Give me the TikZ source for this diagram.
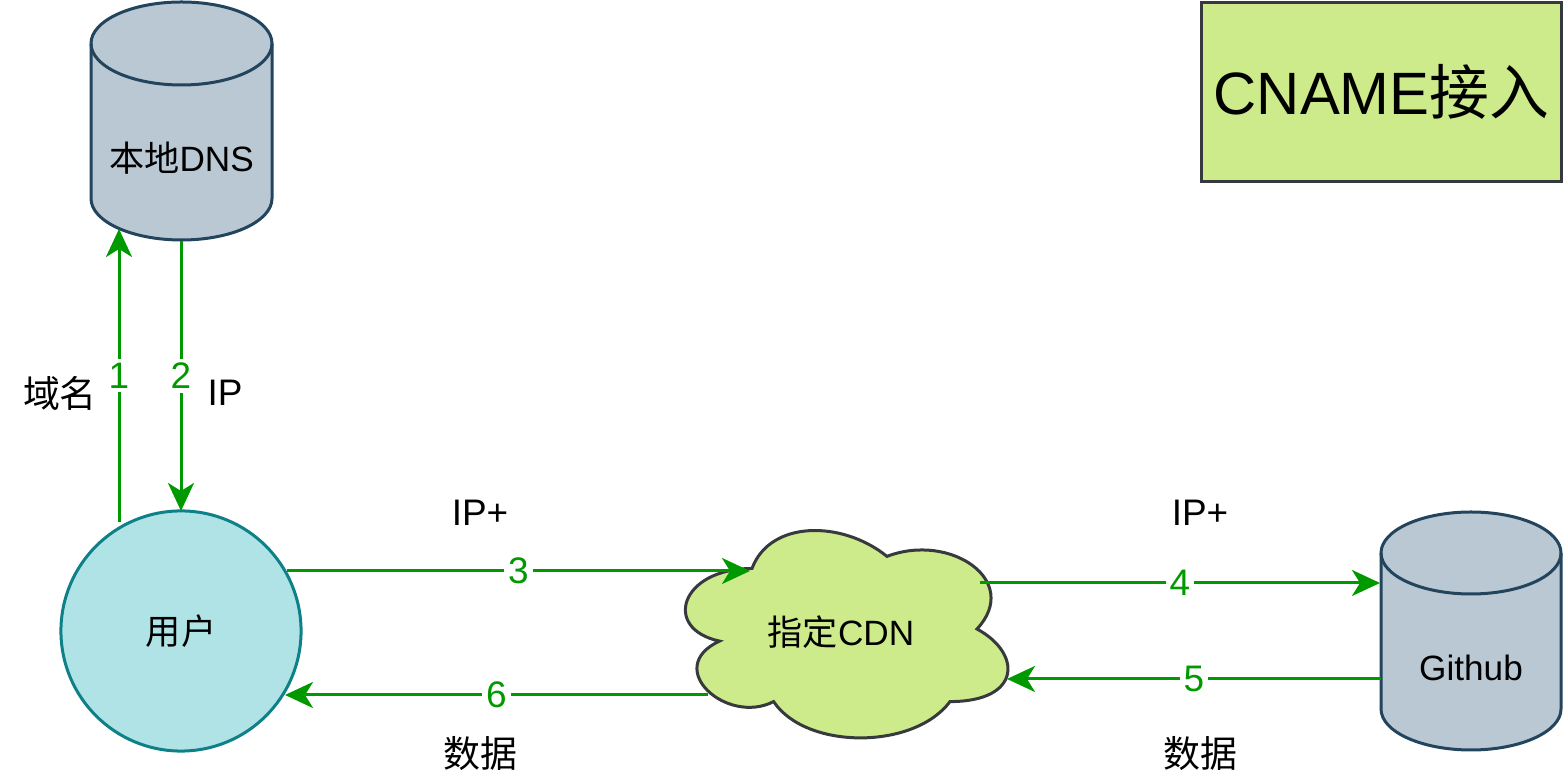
\documentclass[tikz,border=0pt]{standalone}
\usepackage{fontspec}
\setmainfont{Liberation Sans}
\newfontfamily\cjk{Noto Sans CJK SC}
\usetikzlibrary{arrows.meta}
\definecolor{cylfill}{HTML}{BAC8D3}
\definecolor{cylline}{HTML}{23445D}
\definecolor{userfill}{HTML}{B0E3E6}
\definecolor{userline}{HTML}{0E8088}
\definecolor{limefill}{HTML}{CDEB8B}
\definecolor{darkline}{HTML}{36393D}
\definecolor{flowgreen}{HTML}{009900}
\tikzset{
  cylshape/.style={fill=cylfill,draw=cylline,line width=0.03cm},
  txt/.style={font=\fontsize{10}{12}\selectfont,inner sep=0pt,text=black},
  lbl/.style={font=\fontsize{10.5}{12}\selectfont,inner sep=0pt,text=black},
  flow/.style={draw=flowgreen,line width=0.03cm,-{Stealth[length=0.28cm,width=0.26cm,inset=0.08cm]}},
  num/.style={font=\fontsize{10.5}{12}\selectfont,text=flowgreen,fill=white,inner sep=1.2pt}
}
\begin{document}
\begin{tikzpicture}[x=0.01cm,y=0.01cm]
\useasboundingbox (0,0) rectangle (1563,-783);
% DNS cylinder
\draw[cylshape] (91,-43.5) -- (91,-198.5) arc[start angle=180,end angle=360,x radius=90.5,y radius=41.5]
  -- (272,-43.5) arc[start angle=0,end angle=180,x radius=90.5,y radius=41.5] -- cycle;
\draw[draw=cylline,line width=0.03cm] (91,-43.5) arc[start angle=180,end angle=360,x radius=90.5,y radius=41.5];
\node[txt] (dns) at (181.5,-158) {{\cjk 本地}DNS};
% Github cylinder
\draw[cylshape] (1381,-553) -- (1381,-709) arc[start angle=180,end angle=360,x radius=90,y radius=41]
  -- (1561,-553) arc[start angle=0,end angle=180,x radius=90,y radius=41] -- cycle;
\draw[draw=cylline,line width=0.03cm] (1381,-553) arc[start angle=180,end angle=360,x radius=90,y radius=41];
\node[txt] (github) at (1471,-668) {Github};
% user
\node[circle,fill=userfill,draw=userline,line width=0.03cm,minimum size=2.4cm,inner sep=0pt,
  font=\fontsize{10}{12}\selectfont] (user) at (181,-631) {\cjk 用户};
% cloud
\begin{scope}[shift={(662,-508)},xscale=360,yscale=-242]
\draw[fill=limefill,draw=darkline,line width=0.03cm]
  (0.25,0.25) .. controls (0.05,0.25) and (0,0.5) .. (0.16,0.55)
  .. controls (0,0.66) and (0.18,0.9) .. (0.31,0.8)
  .. controls (0.4,1) and (0.7,1) .. (0.8,0.8)
  .. controls (1,0.8) and (1,0.6) .. (0.875,0.5)
  .. controls (1,0.3) and (0.8,0.1) .. (0.625,0.2)
  .. controls (0.5,0.05) and (0.3,0.05) .. (0.25,0.25) -- cycle;
\end{scope}
\node[txt] (cdn) at (841,-632) {{\cjk 指定}CDN};
% title
\node[draw=darkline,fill=limefill,line width=0.03cm,minimum width=3.6cm,minimum height=1.79cm,inner sep=0pt,
  font=\fontsize{17}{20}\selectfont] (title) at (1381.5,-92) {CNAME{\cjk 接入}};
% connector endpoints
\coordinate (u1) at (119,-522);
\coordinate (d1) at (119,-229);
\coordinate (d2) at (181,-241);
\coordinate (u2) at (181,-511);
\coordinate (u3) at (287,-571);
\coordinate (c3) at (750,-571);
\coordinate (c4) at (980,-583);
\coordinate (g4) at (1380,-583);
\coordinate (g5) at (1381,-679);
\coordinate (c5) at (1007,-679);
\coordinate (c6) at (708,-695);
\coordinate (u6) at (285,-695);
% connectors
\draw[flow] (u1) -- node[num] {1} (d1);
\draw[flow] (d2) -- node[num] {2} (u2);
\draw[flow] (u3) -- node[num] {3} (c3);
\draw[flow] (c4) -- node[num] {4} (g4);
\draw[flow] (g5) -- node[num] {5} (c5);
\draw[flow] (c6) -- node[num] {6} (u6);
% labels
\node[lbl] (lyuming) at (60,-393) {\cjk 域名};
\node[lbl] (lip) at (225,-393) {IP};
\node[lbl] (lip3) at (480,-513) {IP+};
\node[lbl] (lip4) at (1200,-513) {IP+};
\node[lbl] (ldata6) at (480,-754) {\cjk 数据};
\node[lbl] (ldata5) at (1200,-754) {\cjk 数据};
\end{tikzpicture}
\end{document}
